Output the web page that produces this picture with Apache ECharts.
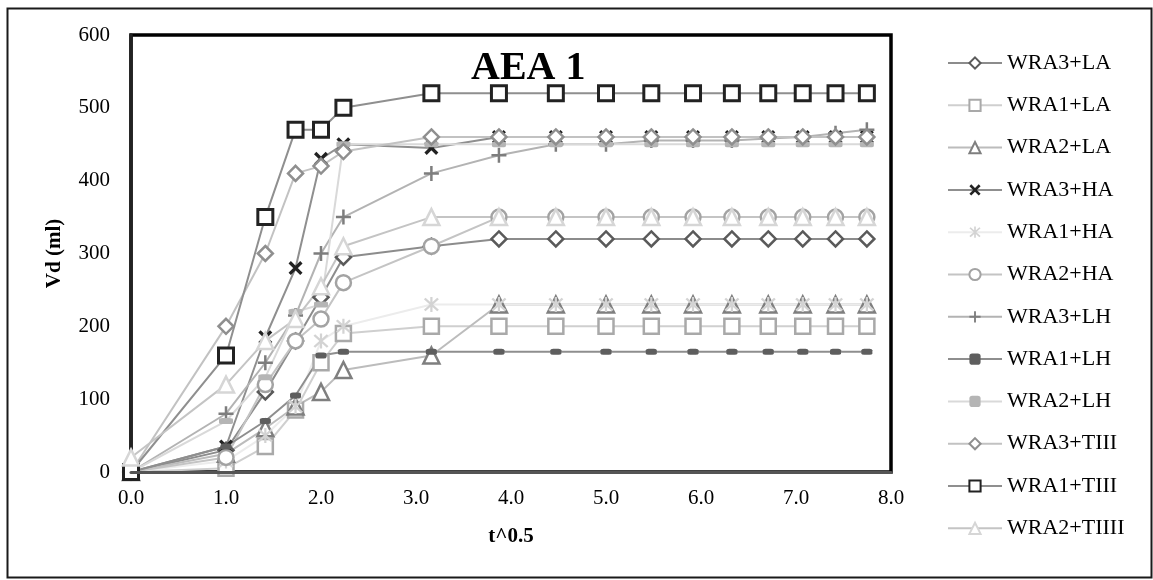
<!DOCTYPE html>
<html>
<head>
<meta charset="utf-8">
<style>
  html, body { margin: 0; padding: 0; background: #fff; }
  #chart { width: 1153px; height: 580px; }
</style>
<script src="https://cdn.jsdelivr.net/npm/echarts@6/dist/echarts.min.js"></script>
</head>
<body>
<div id="chart"></div>
<script>
// Square root of elapsed time (x axis) and cumulative volume Vd (ml) per mixture
const sqrtTime = [0, 1, 1.414, 1.732, 2, 2.236, 3.162, 3.873, 4.472, 5, 5.477, 5.916, 6.325, 6.708, 7.071, 7.416, 7.746];

const wra3LA   = [0, 30, 110, 180, 240, 295, 310, 320, 320, 320, 320, 320, 320, 320, 320, 320, 320];
const wra1LA   = [0, 5, 35, 85, 150, 190, 200, 200, 200, 200, 200, 200, 200, 200, 200, 200, 200];
const wra2LA   = [0, 25, 60, 90, 110, 140, 160, 230, 230, 230, 230, 230, 230, 230, 230, 230, 230];
const wra3HA   = [0, 35, 185, 280, 430, 450, 445, 460, 460, 460, 460, 460, 460, 460, 460, 460, 460];
const wra1HA   = [0, 15, 50, 90, 180, 200, 230, 230, 230, 230, 230, 230, 230, 230, 230, 230, 230];
const wra2HA   = [0, 20, 120, 180, 210, 260, 310, 350, 350, 350, 350, 350, 350, 350, 350, 350, 350];
const wra3LH   = [0, 80, 150, 215, 300, 350, 410, 435, 450, 450, 455, 455, 455, 458, 460, 465, 470];
const wra1LH   = [0, 35, 70, 105, 160, 165, 165, 165, 165, 165, 165, 165, 165, 165, 165, 165, 165];
const wra2LH   = [0, 70, 130, 220, 230, 450, 450, 450, 450, 450, 450, 450, 450, 450, 450, 450, 450];
const wra3TIII = [0, 200, 300, 410, 420, 440, 460, 460, 460, 460, 460, 460, 460, 460, 460, 460, 460];
const wra1TIII = [0, 160, 350, 470, 470, 500, 520, 520, 520, 520, 520, 520, 520, 520, 520, 520, 520];
const wra2TIIII = [20, 120, 180, 210, 255, 310, 350, 350, 350, 350, 350, 350, 350, 350, 350, 350, 350];

const yTicks = { min: 0, max: 600, step: 100 };
const xTicks = { min: 0, max: 8, step: 1 };

// marker outlines
const X_PATH = 'path://M0,2 L2,0 L12,10 L10,12 Z M10,0 L12,2 L2,12 L0,10 Z';
const PLUS_PATH = 'path://M5,0 L7,0 L7,5 L12,5 L12,7 L7,7 L7,12 L5,12 L5,7 L0,7 L0,5 L5,5 Z';
const STAR_PATH = 'path://M5.2,0 L6.8,0 L6.8,12 L5.2,12 Z M0.6,1.8 L1.8,0.6 L11.4,10.2 L10.2,11.4 Z M10.2,0.6 L11.4,1.8 L1.8,11.4 L0.6,10.2 Z';

const SERIF = 'Liberation Serif';

function pairs(ys) { return sqrtTime.map((x, i) => [x, ys[i]]); }

function lineSeries(name, ys, lineColor, symbol, size, item) {
  return {
    name: name,
    type: 'line',
    data: pairs(ys),
    symbol: symbol,
    symbolSize: size,
    showAllSymbol: true,
    lineStyle: { color: lineColor, width: 2 },
    itemStyle: item,
    emphasis: { disabled: true },
    animation: false
  };
}

const hollow = (c, w) => ({ color: '#fff', borderColor: c, borderWidth: w });
const solid = (c) => ({ color: c, borderWidth: 0 });

const series = [
  lineSeries('WRA3+LA',  wra3LA,  '#8c8c8c', 'diamond', 15, hollow('#5a5a5a', 2.5)),
  lineSeries('WRA1+LA',  wra1LA,  '#cfcfcf', 'rect', 15, hollow('#a9a9a9', 2.5)),
  lineSeries('WRA2+LA',  wra2LA,  '#bcbcbc', 'triangle', 16, hollow('#7f7f7f', 2.5)),
  lineSeries('WRA3+HA',  wra3HA,  '#8f8f8f', X_PATH, 14, solid('#222222')),
  lineSeries('WRA1+HA',  wra1HA,  '#ececec', STAR_PATH, 15, solid('#d3d3d3')),
  lineSeries('WRA2+HA',  wra2HA,  '#c4c4c4', 'circle', 15, hollow('#a3a3a3', 2.5)),
  lineSeries('WRA3+LH',  wra3LH,  '#b3b3b3', PLUS_PATH, 15, solid('#7d7d7d')),
  lineSeries('WRA1+LH',  wra1LH,  '#8e8e8e', 'roundRect', [11, 6], solid('#5e5e5e')),
  lineSeries('WRA2+LH',  wra2LH,  '#d9d9d9', 'roundRect', [14, 6], solid('#b5b5b5')),
  lineSeries('WRA3+TIII', wra3TIII, '#c2c2c2', 'diamond', 15, hollow('#8f8f8f', 2.5)),
  lineSeries('WRA1+TIII', wra1TIII, '#8f8f8f', 'rect', 15, hollow('#222222', 3)),
  lineSeries('WRA2+TIIII', wra2TIIII, '#c4c4c4', 'triangle', 16, hollow('#d6d6d6', 2.5))
];

const chart = echarts.init(document.getElementById('chart'), null, { renderer: 'canvas' });

chart.setOption({
  backgroundColor: '#ffffff',
  animation: false,
  textStyle: { fontFamily: SERIF },
  title: {
    text: 'AEA 1',
    left: 466,
    top: 44,
    textStyle: { fontFamily: SERIF, fontSize: 40, fontWeight: 'bold', color: '#000' }
  },
  grid: {
    left: 131, right: 262, top: 35, bottom: 108,
    show: true, borderColor: '#000', borderWidth: 3.5, backgroundColor: 'transparent'
  },
  legend: {
    orient: 'vertical',
    left: 942,
    top: 47,
    itemWidth: 54,
    itemHeight: 14,
    itemGap: 20.3,
    data: series.map(s => s.name),
    textStyle: { fontFamily: SERIF, fontSize: 22, color: '#000', lineHeight: 22 },
    selectedMode: false
  },
  xAxis: {
    type: 'value',
    min: xTicks.min, max: xTicks.max, interval: xTicks.step,
    name: 't^0.5',
    nameLocation: 'middle',
    nameGap: 54,
    nameTextStyle: { fontFamily: SERIF, fontSize: 21, fontWeight: 'bold', color: '#000' },
    axisLine: { show: true, onZero: false, lineStyle: { color: '#555', width: 3 } },
    axisTick: { show: false },
    splitLine: { show: false },
    axisLabel: {
      margin: 16, fontFamily: SERIF, fontSize: 21, color: '#000',
      formatter: v => v.toFixed(1)
    },
    z: 5
  },
  yAxis: {
    type: 'value',
    min: yTicks.min, max: yTicks.max, interval: yTicks.step,
    name: 'Vd (ml)',
    nameLocation: 'middle',
    nameRotate: 90,
    nameGap: 66,
    nameTextStyle: { fontFamily: SERIF, fontSize: 21, fontWeight: 'bold', color: '#000' },
    axisLine: { show: true, lineStyle: { color: '#222', width: 3.5 } },
    axisTick: { show: false },
    splitLine: { show: false },
    axisLabel: { margin: 21, fontFamily: SERIF, fontSize: 21, color: '#000' }
  },
  graphic: [
    {
      type: 'rect',
      left: 5, top: 6,
      shape: { width: 1144, height: 569 },
      style: { fill: 'none', stroke: '#1a1a1a', lineWidth: 2 },
      silent: true,
      z: 0
    }
  ],
  series: series
});
</script>
</body>
</html>
